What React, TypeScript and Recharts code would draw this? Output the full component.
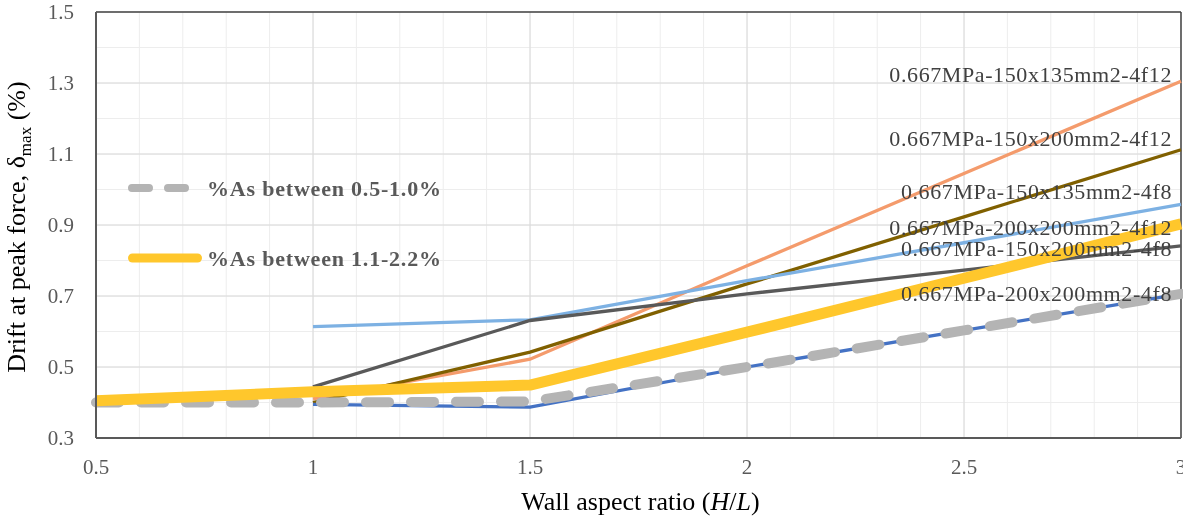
import React from 'react';
import { LineChart, Line, XAxis, YAxis, CartesianGrid, ReferenceLine, Legend, Label } from 'recharts';

const xValues = [0.5, 1, 1.5, 2, 2.5, 3];
const s150x135f12 = [null, 0.41, 0.522, 0.785, 1.045, 1.305];
const s150x200f12 = [null, 0.40, 0.542, 0.734, 0.923, 1.112];
const s150x135f8 = [null, 0.614, 0.633, 0.743, 0.85, 0.958];
const s200x200f12 = [null, 0.43, 0.449, 0.598, 0.75, 0.903];
const s150x200f8 = [null, 0.444, 0.631, 0.706, 0.773, 0.841];
const s200x200f8 = [null, 0.395, 0.387, 0.5, 0.603, 0.706];
const asLow = [0.4, 0.4, 0.403, 0.5, 0.603, 0.706];
const asHigh = [0.405, 0.43, 0.449, 0.598, 0.75, 0.903];

const xTicks = [0.5, 0.6, 0.7, 0.8, 0.9, 1, 1.1, 1.2, 1.3, 1.4, 1.5, 1.6, 1.7, 1.8, 1.9, 2, 2.1, 2.2, 2.3, 2.4, 2.5, 2.6, 2.7, 2.8, 2.9, 3];
const xLabelTicks = [0.5, 1, 1.5, 2, 2.5, 3];
const yTicks = [0.3, 0.4, 0.5, 0.6, 0.7, 0.8, 0.9, 1, 1.1, 1.2, 1.3, 1.4, 1.5];
const yLabelTicks = [0.3, 0.5, 0.7, 0.9, 1.1, 1.3, 1.5];
const xMajorGrid = [1, 1.5, 2, 2.5];
const yMajorGrid = [0.5, 0.7, 0.9, 1.1, 1.3];

const seriesNames = {
  a: '0.667MPa-150x135mm2-4f12',
  b: '0.667MPa-150x200mm2-4f12',
  c: '0.667MPa-150x135mm2-4f8',
  d: '0.667MPa-200x200mm2-4f12',
  e: '0.667MPa-150x200mm2-4f8',
  f: '0.667MPa-200x200mm2-4f8',
  low: '%As between 0.5-1.0%',
  high: '%As between 1.1-2.2%',
};

const data = xValues.map((x, i) => ({
  x,
  a: s150x135f12[i],
  b: s150x200f12[i],
  c: s150x135f8[i],
  d: s200x200f12[i],
  e: s150x200f8[i],
  f: s200x200f8[i],
  low: asLow[i],
  high: asHigh[i],
}));

const lastIndex = xValues.length - 1;
const FONT = '"Liberation Serif", "Times New Roman", serif';

const makeLabel = (text: string, dy: number) => (props: any) => {
  if (props.index !== lastIndex || props.x == null) return <g />;
  return (
    <text
      x={props.x - 9}
      y={props.y + dy + 7.5}
      textAnchor="end"
      fontFamily={FONT}
      fontSize={22}
      letterSpacing={0.6}
      fill="#404040"
    >
      {text}
    </text>
  );
};

const LegendBox = () => (
  <svg width={340} height={110} style={{ display: 'block', overflow: 'visible' }}>
    <line x1={4} y1={18} x2={62} y2={18} stroke="#B4B4B4" strokeWidth={8} strokeLinecap="round" strokeDasharray="17 19" />
    <text x={79} y={25.5} fontFamily={FONT} fontSize={22} fontWeight="bold" letterSpacing={0.8} fill="#595959">
      {seriesNames.low}
    </text>
    <line x1={4.5} y1={88} x2={69.5} y2={88} stroke="#FFC72C" strokeWidth={9} strokeLinecap="round" />
    <text x={79} y={95.5} fontFamily={FONT} fontSize={22} fontWeight="bold" letterSpacing={0.8} fill="#595959">
      {seriesNames.high}
    </text>
  </svg>
);

const fmt1 = (v: number) => v.toFixed(1);

export default function App() {
  return (
    <div style={{ position: 'fixed', left: 0, top: 0, width: 1183, height: 518, overflow: 'hidden' }}>
      <LineChart width={1183} height={518} data={data} margin={{ top: 12, right: 2, left: 0, bottom: 0 }}>
        <CartesianGrid stroke="#EDEDED" strokeWidth={1} />
        {xMajorGrid.map((v) => (
          <ReferenceLine key={'xg' + v} x={v} stroke="#DADADA" strokeWidth={1} />
        ))}
        {yMajorGrid.map((v) => (
          <ReferenceLine key={'yg' + v} y={v} stroke="#DADADA" strokeWidth={1} />
        ))}
        <ReferenceLine y={1.5} stroke="#404040" strokeWidth={1.5} />
        <ReferenceLine x={3} stroke="#404040" strokeWidth={1.5} />
        <XAxis
          dataKey="x"
          type="number"
          domain={[0.5, 3]}
          ticks={xTicks}
          interval={0}
          tickFormatter={(v: number) => (xLabelTicks.includes(v) ? String(v) : '')}
          tickLine={false}
          tickSize={6}
          tickMargin={15}
          height={80}
          axisLine={{ stroke: '#595959', strokeWidth: 2 }}
          tick={{ fontSize: 21, fill: '#595959', fontFamily: FONT }}
        >
          <Label
            content={(p: any) => {
              const vb = p.viewBox;
              return (
                <text x={vb.x + vb.width / 2 + 2} y={vb.y + 72} textAnchor="middle" fontFamily={FONT} fontSize={26} fill="#000">
                  Wall aspect ratio (<tspan fontStyle="italic">H</tspan>/<tspan fontStyle="italic">L</tspan>)
                </text>
              );
            }}
          />
        </XAxis>
        <YAxis
          type="number"
          domain={[0.3, 1.5]}
          ticks={yTicks}
          interval={0}
          tickFormatter={(v: number) => (yLabelTicks.includes(v) ? fmt1(v) : '')}
          tickLine={false}
          tickSize={6}
          tickMargin={16}
          width={96}
          axisLine={{ stroke: '#595959', strokeWidth: 2 }}
          tick={{ fontSize: 21, fill: '#595959', fontFamily: FONT }}
        >
          <Label
            content={(p: any) => {
              const vb = p.viewBox;
              const cx = 25;
              const cy = vb.y + vb.height / 2 + 2;
              return (
                <text x={cx} y={cy} transform={`rotate(-90, ${cx}, ${cy})`} textAnchor="middle" fontFamily={FONT} fontSize={26} fill="#000">
                  Drift at peak force, δ<tspan dy={6} fontSize={17}>max</tspan>
                  <tspan dy={-6} fontSize={26}> (%)</tspan>
                </text>
              );
            }}
          />
        </YAxis>
        <Legend
          layout="vertical"
          align="center"
          verticalAlign="middle"
          content={() => <LegendBox />}
          wrapperStyle={{ position: 'absolute', left: 128, top: 170, width: 340, height: 110 }}
        />
        <Line dataKey="a" name={seriesNames.a} stroke="#F49B6C" strokeWidth={3.3} dot={false} legendType="none" isAnimationActive={false} />
        <Line dataKey="b" name={seriesNames.b} stroke="#806000" strokeWidth={3.3} dot={false} legendType="none" isAnimationActive={false} />
        <Line dataKey="c" name={seriesNames.c} stroke="#7DB1E3" strokeWidth={3.3} dot={false} legendType="none" isAnimationActive={false} />
        <Line dataKey="d" name={seriesNames.d} stroke="#A5A5A5" strokeWidth={2.5} dot={false} legendType="none" isAnimationActive={false} />
        <Line dataKey="e" name={seriesNames.e} stroke="#595959" strokeWidth={3.3} dot={false} legendType="none" isAnimationActive={false} />
        <Line dataKey="f" name={seriesNames.f} stroke="#4472C4" strokeWidth={3.3} dot={false} legendType="none" isAnimationActive={false} />
        <Line dataKey="low" name={seriesNames.low} stroke="#B4B4B4" strokeWidth={10} strokeDasharray="23 22" strokeLinecap="round" dot={false} isAnimationActive={false} />
        <Line dataKey="high" name={seriesNames.high} stroke="#FFC72C" strokeWidth={11} strokeLinejoin="round" dot={false} isAnimationActive={false} />
        <Line dataKey="a" stroke="none" dot={false} activeDot={false} legendType="none" isAnimationActive={false} label={makeLabel(seriesNames.a, -7)} />
        <Line dataKey="b" stroke="none" dot={false} activeDot={false} legendType="none" isAnimationActive={false} label={makeLabel(seriesNames.b, -11)} />
        <Line dataKey="c" stroke="none" dot={false} activeDot={false} legendType="none" isAnimationActive={false} label={makeLabel(seriesNames.c, -13)} />
        <Line dataKey="d" stroke="none" dot={false} activeDot={false} legendType="none" isAnimationActive={false} label={makeLabel(seriesNames.d, 4)} />
        <Line dataKey="e" stroke="none" dot={false} activeDot={false} legendType="none" isAnimationActive={false} label={makeLabel(seriesNames.e, 3)} />
        <Line dataKey="f" stroke="none" dot={false} activeDot={false} legendType="none" isAnimationActive={false} label={makeLabel(seriesNames.f, 0)} />
      </LineChart>
    </div>
  );
}
